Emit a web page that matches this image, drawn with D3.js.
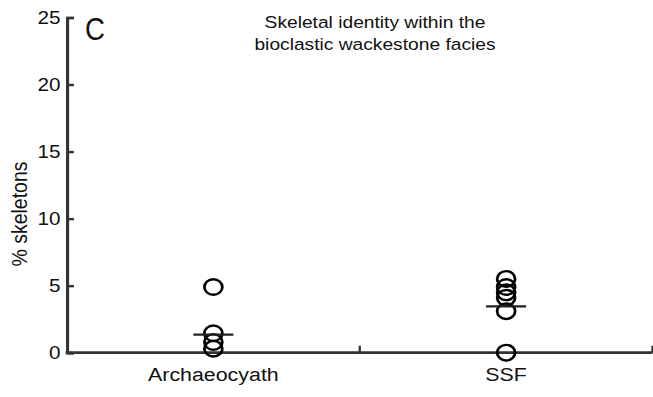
<!DOCTYPE html>
<html>
<head>
<meta charset="utf-8">
<script src="https://cdn.jsdelivr.net/npm/d3@7/dist/d3.min.js"></script>
<style>
  html, body { margin: 0; padding: 0; background: #fff; }
  svg { display: block; }
  text { font-family: "Liberation Sans", Arial, sans-serif; fill: #111; }
</style>
</head>
<body>
<div id="chart"></div>
<script>
// ---- data ----
const categories = ["Archaeocyath", "SSF"];
const archaeocyathValues = [4.9, 1.45, 0.8, 0.3];
const ssfValues = [5.5, 4.9, 4.5, 4.1, 3.1, 0];
const medianValues = [1.35, 3.45];
const yTicks = [0, 5, 10, 15, 20, 25];
const titleLines = ["Skeletal identity within the", "bioclastic wackestone facies"];
const panelLetter = "C";
const yLabel = "% skeletons";

// ---- layout ----
const W = 653, H = 397;
const SX = 1.15;               // horizontal stretch of the reference
const IW = W / SX;             // internal width

const svg = d3.select("#chart").append("svg")
  .attr("width", W).attr("height", H)
  .attr("viewBox", `0 0 ${IW} ${H}`)
  .attr("preserveAspectRatio", "none");

const x0 = 67 / SX, x1 = 652.5 / SX;
const x = d3.scaleBand().domain(categories).range([x0, x1]).padding(0);
const y = d3.scaleLinear().domain([0, 25]).range([352.7, 17.5]);

const axisColor = "#333";

// y axis
const yAxis = d3.axisLeft(y).tickValues(yTicks).tickSizeInner(-6).tickSizeOuter(-6).tickPadding(5.6);
const gy = svg.append("g").attr("transform", `translate(${x0},0)`).call(yAxis);
gy.select(".domain").attr("stroke", axisColor).attr("stroke-width", 2.7).attr("fill", "none");
gy.selectAll(".tick line").attr("stroke", axisColor).attr("stroke-width", 2.4);
gy.selectAll(".tick text").style("font-size", "18px").attr("fill", "#111")
  .style("font-family", "'Liberation Sans', Arial, sans-serif");

// x axis baseline
svg.append("line").attr("x1", x0 - 1.2).attr("x2", x1).attr("y1", y(0)).attr("y2", y(0))
  .attr("stroke", axisColor).attr("stroke-width", 2.7);
// boundary ticks (upward)
const boundaries = categories.map(c => x(c) + x.bandwidth());
svg.selectAll(".xtick").data(boundaries).enter().append("line")
  .attr("x1", d => d).attr("x2", d => d)
  .attr("y1", y(0)).attr("y2", y(0) - 7)
  .attr("stroke", axisColor).attr("stroke-width", 2);

// category labels
svg.selectAll(".xlab").data(categories).enter().append("text")
  .attr("x", d => x(d) + x.bandwidth() / 2)
  .attr("y", 381.5)
  .attr("text-anchor", "middle")
  .style("font-size", "18.6px")
  .text(d => d);

// y label
svg.append("text")
  .attr("transform", `translate(23.5,214) rotate(-90)`)
  .attr("text-anchor", "middle")
  .style("font-size", "19.5px")
  .text(yLabel);

// title
svg.selectAll(".title").data(titleLines).enter().append("text")
  .attr("x", 375 / SX)
  .attr("y", (d, i) => 28.5 + i * 21.5)
  .attr("text-anchor", "middle")
  .style("font-size", "16.7px")
  .text(d => d);

// panel letter
svg.append("text")
  .attr("transform", `translate(${85 / SX},40) scale(0.75,1)`)
  .style("font-size", "32px")
  .text(panelLetter);

// points
const seriesByCat = [archaeocyathValues, ssfValues];
const pts = [];
categories.forEach((c, i) => seriesByCat[i].forEach(v => pts.push({c, v})));
svg.selectAll(".pt").data(pts).enter().append("circle")
  .attr("cx", d => x(d.c) + x.bandwidth() / 2)
  .attr("cy", d => y(d.v))
  .attr("r", 7.8)
  .attr("fill", "none")
  .attr("stroke", "#000")
  .attr("stroke-width", 2.4);

// medians
svg.selectAll(".med").data(categories).enter().append("line")
  .attr("x1", d => x(d) + x.bandwidth() / 2 - 17.4)
  .attr("x2", d => x(d) + x.bandwidth() / 2 + 17.4)
  .attr("y1", (d, i) => y(medianValues[i]))
  .attr("y2", (d, i) => y(medianValues[i]))
  .attr("stroke", "#222")
  .attr("stroke-width", 2.2);
</script>
</body>
</html>
